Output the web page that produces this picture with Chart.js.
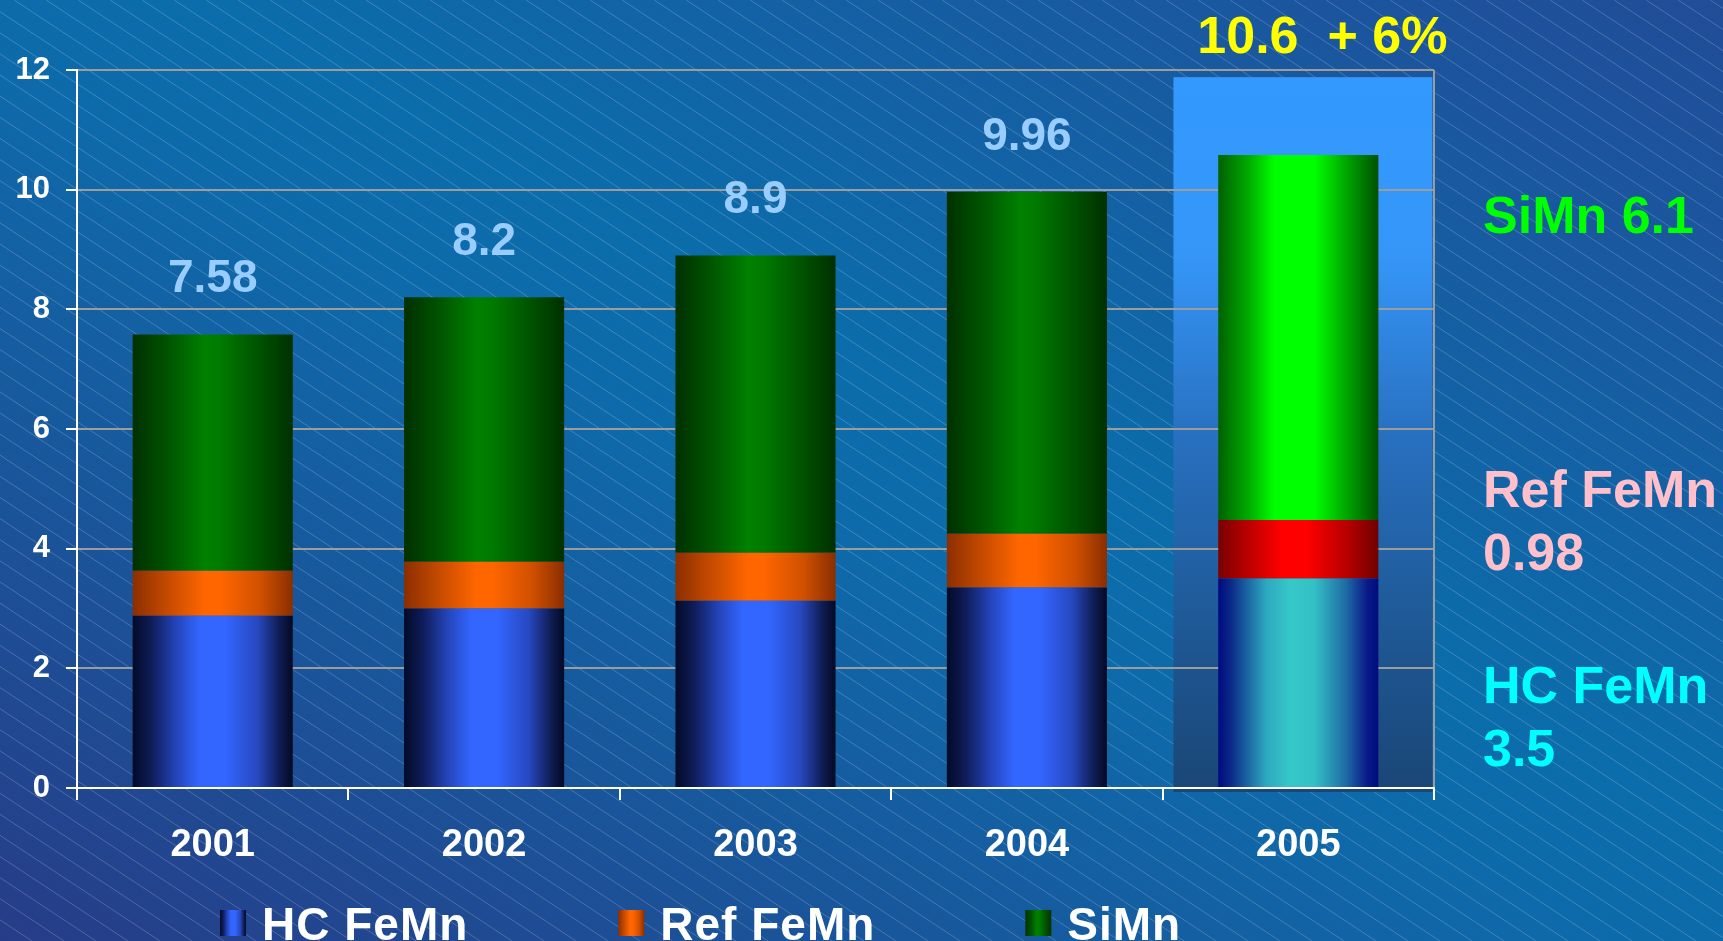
<!DOCTYPE html>
<html>
<head>
<meta charset="utf-8">
<script src="https://cdn.jsdelivr.net/npm/chart.js@4.4.0/dist/chart.umd.min.js"></script>
<style>
  html, body { margin: 0; padding: 0; background: #1a5a9e; }
  canvas { display: block; }
</style>
</head>
<body>
<canvas id="chart" width="1723" height="941"></canvas>
<script>
// ---------------- DATA ----------------
const years = ["2001", "2002", "2003", "2004", "2005"];
const hcFeMn = [2.88, 3.0, 3.13, 3.35, 3.5];
const refFeMn = [0.75, 0.78, 0.8, 0.9, 0.98];
const siMn = [3.95, 4.42, 4.97, 5.71, 6.1];
const totalLabels = ["7.58", "8.2", "8.9", "9.96", "10.6  + 6%"];
const yTicks = [0, 2, 4, 6, 8, 10, 12];
const sideNotes = [["SiMn 6.1"], ["Ref FeMn", "0.98"], ["HC FeMn", "3.5"]];

// ---------------- STYLE ----------------
const FONT = "'Liberation Sans', Arial, sans-serif";
const barPct = 0.59;

const hcStops = [[0, "#030a28"], [0.12, "#0f1d5a"], [0.27, "#2444b8"], [0.42, "#3366ff"], [0.58, "#3366ff"], [0.78, "#2748c0"], [0.92, "#0f1c52"], [1, "#030a24"]];
const refStops = [[0, "#8c2e00"], [0.2, "#c04800"], [0.45, "#ff6600"], [0.55, "#ff6600"], [0.8, "#d05000"], [1, "#8a2e00"]];
const siStops = [[0, "#003000"], [0.2, "#005000"], [0.45, "#008000"], [0.55, "#007a00"], [0.8, "#005000"], [1, "#003000"]];

// highlighted year (2005)
const hcHi = [[0, "#000a80"], [0.08, "#0a2a88"], [0.3, "#2ea8c0"], [0.45, "#36c8c8"], [0.6, "#33c0c6"], [0.8, "#1e6aa4"], [0.93, "#0a1a88"], [1, "#000a80"]];
const refHi = [[0, "#780000"], [0.2, "#c00000"], [0.4, "#ff0000"], [0.55, "#ff0000"], [0.8, "#b80000"], [1, "#700000"]];
const siHi = [[0, "#006000"], [0.2, "#00b000"], [0.35, "#00ff00"], [0.6, "#00ff00"], [0.85, "#009000"], [1, "#005000"]];

const noteColors = ["#00ff00", "#ffc0cb", "#00ffff"];
const noteBaselines = [[233], [507, 570], [703, 766]];

function cylinder(stops, hiStops) {
    return ctx => {
        const s = ctx.dataIndex === years.length - 1 ? hiStops : stops;
        const chart = ctx.chart;
        const area = chart.chartArea;
        if (ctx.type !== "data" || !area || !chart.scales.x) return s[3][1];
        const cx = chart.scales.x.getPixelForValue(ctx.dataIndex);
        const w = (area.right - area.left) / years.length * barPct;
        const g = chart.ctx.createLinearGradient(cx - w / 2, 0, cx + w / 2, 0);
        s.forEach(p => g.addColorStop(p[0], p[1]));
        return g;
    };
}

// ---------------- BACKGROUND ----------------
const backdrop = {
    id: "backdrop",
    beforeDraw(chart) {
        const c = chart.ctx, W = chart.width, H = chart.height;
        c.save();
        const k = 2 * W * H / (W * W + H * H);
        const g = c.createLinearGradient(0, H, H * k, H - W * k);
        g.addColorStop(0, "#273c88");
        g.addColorStop(0.46, "#0e6aaa");
        g.addColorStop(0.56, "#0b6dab");
        g.addColorStop(1, "#214c98");
        c.fillStyle = g;
        c.fillRect(0, 0, W, H);

        // thin diagonal hatch
        c.strokeStyle = "rgba(255,255,255,0.2)";
        c.lineWidth = 1;
        const slope = 0.66, step = 32;
        c.beginPath();
        for (let x0 = -H / slope; x0 < W; x0 += step) {
            c.moveTo(x0, 0);
            c.lineTo(x0 + H / slope, H);
        }
        c.stroke();

        // highlight panel behind 2005
        const xs = chart.scales.x, ys = chart.scales.y;
        const cw = (chart.chartArea.right - chart.chartArea.left) / years.length;
        const cx = xs.getPixelForValue(years.length - 1);
        const top = ys.getPixelForValue(11.88), bottom = ys.getPixelForValue(0) + 4;
        const hg = c.createLinearGradient(0, top, 0, bottom);
        hg.addColorStop(0, "#3399ff");
        hg.addColorStop(0.25, "#3596f8");
        hg.addColorStop(0.5, "#2870c0");
        hg.addColorStop(0.75, "#1f5a98");
        hg.addColorStop(1, "#1a4676");
        c.fillStyle = hg;
        c.fillRect(cx - cw * 0.46, top, cw * 0.954, bottom - top);
        c.restore();
    }
};

// ---------------- LABELS ----------------
const annotations = {
    id: "annotations",
    afterDatasetsDraw(chart) {
        const c = chart.ctx;
        const xs = chart.scales.x, ys = chart.scales.y;
        c.save();
        c.textBaseline = "alphabetic";

        totalLabels.forEach((t, i) => {
            const total = hcFeMn[i] + refFeMn[i] + siMn[i];
            const x = xs.getPixelForValue(i);
            if (i === years.length - 1) {
                c.font = "bold 52px " + FONT;
                c.fillStyle = "#ffff00";
                c.textAlign = "left";
                c.fillText(t, x - 101, 53);
            } else {
                c.font = "bold 46px " + FONT;
                c.fillStyle = "#99ccff";
                c.textAlign = "center";
                c.fillText(t, x, ys.getPixelForValue(total) - 42);
            }
        });

        c.font = "bold 52px " + FONT;
        c.textAlign = "left";
        sideNotes.forEach((lines, i) => {
            c.fillStyle = noteColors[i];
            lines.forEach((l, j) => c.fillText(l, 1483, noteBaselines[i][j]));
        });
        c.restore();
    },
    afterDraw(chart) {
        // legend along the bottom edge
        const c = chart.ctx;
        c.save();
        c.font = "bold 46px " + FONT;
        c.letterSpacing = "1px";
        c.textBaseline = "alphabetic";
        c.textAlign = "left";
        let x = 220;
        chart.data.datasets.forEach(ds => {
            const g = c.createLinearGradient(x, 0, x + 26, 0);
            ds.stops.forEach(p => g.addColorStop(p[0], p[1]));
            c.fillStyle = g;
            c.fillRect(x, 910, 26, 26);
            c.fillStyle = "#ffffff";
            c.fillText(ds.label, x + 42, 940);
            x += 42 + c.measureText(ds.label).width + 150;
        });
        c.restore();
    }
};

// ---------------- CHART ----------------
const chart = new Chart(document.getElementById("chart"), {
    type: "bar",
    data: {
        labels: years,
        datasets: [
            { label: "HC FeMn", data: hcFeMn, stops: hcStops, backgroundColor: cylinder(hcStops, hcHi) },
            { label: "Ref FeMn", data: refFeMn, stops: refStops, backgroundColor: cylinder(refStops, refHi) },
            { label: "SiMn", data: siMn, stops: siStops, backgroundColor: cylinder(siStops, siHi) }
        ]
    },
    options: {
        responsive: false,
        animation: false,
        devicePixelRatio: 1,
        barPercentage: barPct,
        categoryPercentage: 1,
        layout: { padding: { top: 70, right: 289, bottom: 0, left: 0 } },
        plugins: {
            legend: { display: false },
            tooltip: { enabled: false }
        },
        scales: {
            x: {
                stacked: true,
                afterFit: s => { s.height = 153; },
                grid: {
                    offset: true,
                    lineWidth: 2,
                    color: c => c.type === "tick" ? "rgba(0,0,0,0)" : "#9c9c9c",
                    tickColor: "#ffffff",
                    tickLength: 12
                },
                border: { color: "#ffffff", width: 2 },
                ticks: {
                    color: "#ffffff",
                    padding: 23,
                    font: { family: FONT, size: 38, weight: "bold" }
                }
            },
            y: {
                stacked: true,
                min: 0,
                max: 12,
                afterFit: s => { s.width = 77; },
                afterBuildTicks: s => { s.ticks = yTicks.map(v => ({ value: v })); },
                grid: {
                    color: "#9c9c9c",
                    lineWidth: 2,
                    tickColor: "#ffffff",
                    tickLength: 11
                },
                border: { color: "#ffffff", width: 2 },
                ticks: {
                    color: "#ffffff",
                    padding: 16,
                    font: { family: FONT, size: 31, weight: "bold" }
                }
            }
        }
    },
    plugins: [backdrop, annotations]
});
</script>
</body>
</html>
